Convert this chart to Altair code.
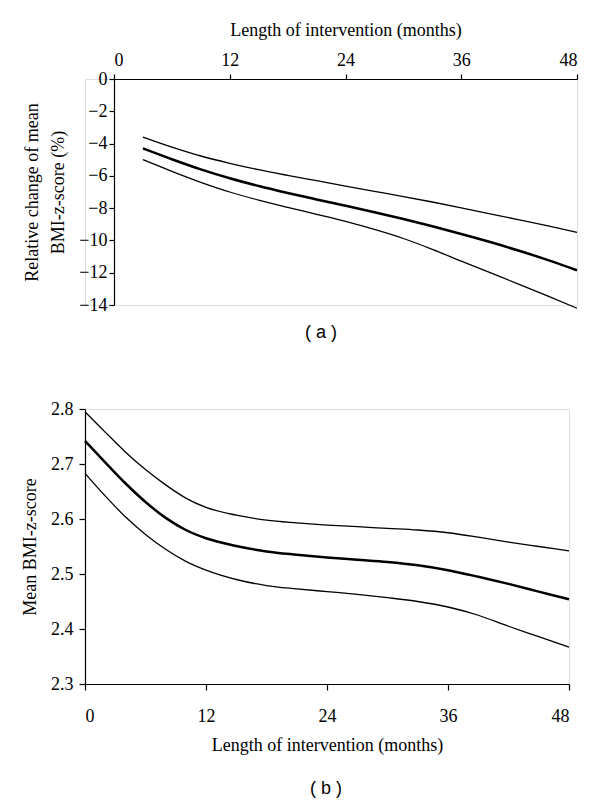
import altair as alt
import pandas as pd

# ---- Panel (a): relative change of mean BMI-z-score (%) ----
months_a = [3, 6, 9, 12, 15, 18, 21, 24, 27, 30, 33, 36, 39, 42, 45, 48]
upper_a = [-3.6, -4.22, -4.77, -5.22, -5.62, -5.97, -6.3, -6.64, -6.96, -7.28, -7.62, -7.98, -8.35, -8.72, -9.1, -9.5]
mid_a = [-4.3, -4.97, -5.6, -6.15, -6.63, -7.06, -7.46, -7.85, -8.25, -8.67, -9.12, -9.6, -10.1, -10.64, -11.22, -11.85]
lower_a = [-5.0, -5.72, -6.4, -7.0, -7.5, -7.95, -8.38, -8.82, -9.32, -9.88, -10.55, -11.28, -12.0, -12.72, -13.45, -14.2]

# ---- Panel (b): mean BMI-z-score ----
months_b = [0, 2, 4, 6, 8, 10, 12, 15, 18, 21, 24, 27, 30, 33, 36, 39, 42, 45, 48]
upper_b = [2.795, 2.758, 2.722, 2.69, 2.662, 2.638, 2.621, 2.607, 2.598, 2.593, 2.589, 2.586, 2.583, 2.58, 2.575, 2.567, 2.558, 2.55, 2.542]
mid_b = [2.742, 2.703, 2.665, 2.631, 2.602, 2.58, 2.565, 2.551, 2.541, 2.535, 2.53, 2.526, 2.522, 2.516, 2.507, 2.495, 2.482, 2.468, 2.454]
lower_b = [2.683, 2.642, 2.604, 2.572, 2.545, 2.523, 2.507, 2.49, 2.479, 2.473, 2.468, 2.463, 2.457, 2.45, 2.44, 2.425, 2.405, 2.386, 2.367]

x_ticks = [0, 12, 24, 36, 48]
y_ticks_a = [0, -2, -4, -6, -8, -10, -12, -14]
y_ticks_b = [2.3, 2.4, 2.5, 2.6, 2.7, 2.8]
series_order = ["upper", "estimate", "lower"]
series_width = {"upper": 1.3, "estimate": 2.5, "lower": 1.3}


def long_df(x, up, mid, lo):
    rows = []
    for name, vals in zip(series_order, [up, mid, lo]):
        for xi, v in zip(x, vals):
            rows.append({"month": xi, "value": v, "series": name})
    return pd.DataFrame(rows)


df_a = long_df(months_a, upper_a, mid_a, lower_a)
df_b = long_df(months_b, upper_b, mid_b, lower_b)

SERIF = "Liberation Serif"
SANS = "Liberation Sans"

axis_common = dict(
    domainColor="black", tickColor="black", labelColor="black", titleColor="black",
    labelFont=SERIF, titleFont=SERIF, labelFontSize=18, titleFontSize=18,
    titleFontWeight="normal", grid=False, domainWidth=1.2, tickWidth=1.2,
)

SHIFT_A = 29  # panel (a) plot starts further right than panel (b)
W_A = 492

x_a = alt.X(
    "month:Q",
    scale=alt.Scale(domain=[0, 48], nice=False, range=[SHIFT_A, W_A]),
    axis=alt.Axis(orient="top", values=x_ticks, title="Length of intervention (months)",
                  tickSize=5, titlePadding=12, labelPadding=5, **axis_common),
)
y_a = alt.Y(
    "value:Q",
    scale=alt.Scale(domain=[-14, 0], nice=False),
    axis=alt.Axis(values=y_ticks_a, title=["Relative change of mean", "BMI-z-score (%)"],
                  offset=-SHIFT_A, tickSize=5, titlePadding=11, labelPadding=2,
                  titleLineHeight=26, **axis_common),
)

layers_a = [
    alt.Chart(df_a).transform_filter(alt.datum.series == s).mark_line(
        color="black", interpolate="monotone", strokeWidth=series_width[s]
    ).encode(x=x_a, y=y_a)
    for s in series_order
]
chart_a = alt.layer(*layers_a).properties(
    width=W_A, height=226,
    title=alt.TitleParams("( a )", orient="bottom", font=SANS, fontSize=18,
                          fontWeight="normal", color="black", offset=10, dx=-10),
)

x_b = alt.X(
    "month:Q",
    scale=alt.Scale(domain=[0, 48], nice=False),
    axis=alt.Axis(orient="bottom", values=x_ticks, title="Length of intervention (months)",
                  tickSize=6, titlePadding=11, labelPadding=17, **axis_common),
)
y_b = alt.Y(
    "value:Q",
    scale=alt.Scale(domain=[2.3, 2.8], nice=False, zero=False),
    axis=alt.Axis(values=y_ticks_b, format=".1f", title="Mean BMI-z-score",
                  tickSize=6, titlePadding=11, labelPadding=6, **axis_common),
)
layers_b = [
    alt.Chart(df_b).transform_filter(alt.datum.series == s).mark_line(
        color="black", interpolate="monotone", strokeWidth=series_width[s]
    ).encode(x=x_b, y=y_b)
    for s in series_order
]
chart_b = alt.layer(*layers_b).properties(
    width=484, height=275,
    title=alt.TitleParams("( b )", orient="bottom", font=SANS, fontSize=18,
                          fontWeight="normal", color="black", offset=26, dx=-1),
)

chart = alt.vconcat(chart_a, chart_b, spacing=56).resolve_scale(
    x="independent", y="independent"
).properties(
    padding={"left": 13, "top": 12, "right": 5, "bottom": 5}
).configure_view(stroke=None).configure(background="white")

chart.save("out.html", embed_options={"renderer": "svg", "actions": False})
